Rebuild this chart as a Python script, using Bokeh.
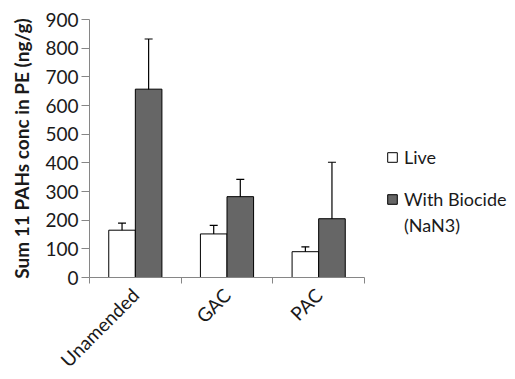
from bokeh.plotting import figure
from bokeh.models import (ColumnDataSource, Whisker, TeeHead, Legend, LegendItem,
                          FixedTicker, Range1d)
from bokeh.embed import file_html
from bokeh.resources import INLINE
import math

categories = ["Unamended", "GAC", "PAC"]
live = [165, 152, 90]
live_err = [25, 30, 17]
biocide = [657, 282, 205]
biocide_err = [175, 60, 197]
y_ticks = [0, 100, 200, 300, 400, 500, 600, 700, 800, 900]
series_names = ["Live", "With Biocide", "(NaN3)"]

FONT = "Lato"
AXIS_GRAY = "#868686"
TXT = "#1a1a1a"

n = len(categories)
xc = [i + 0.5 for i in range(n)]
off = 0.145
w = 0.29
src_live = ColumnDataSource(dict(
    x=[c - off for c in xc], top=live,
    lo=[v - e for v, e in zip(live, live_err)],
    hi=[v + e for v, e in zip(live, live_err)]))
src_bio = ColumnDataSource(dict(
    x=[c + off for c in xc], top=biocide,
    lo=[v - e for v, e in zip(biocide, biocide_err)],
    hi=[v + e for v, e in zip(biocide, biocide_err)]))

p = figure(output_backend="svg", toolbar_location=None,
           x_range=Range1d(0, n), y_range=Range1d(0, 900),
           frame_width=275, frame_height=258,
           min_border_left=89, min_border_top=19, min_border_right=145, min_border_bottom=92)
p.outline_line_color = None
p.xgrid.visible = False
p.ygrid.visible = False

r_live = p.vbar(x="x", top="top", width=w, source=src_live,
                fill_color="white", line_color="black", line_width=1)
r_bio = p.vbar(x="x", top="top", width=w, source=src_bio,
               fill_color="#666666", line_color="black", line_width=1)
# invisible renderer used for text-only legend rows
r_blank = p.vbar(x=[], top=[], width=w, fill_color=None, line_color=None)

for s in (src_live, src_bio):
    wk = Whisker(source=s, base="x", lower="lo", upper="hi",
                 line_color="black", line_width=1.2,
                 upper_head=TeeHead(size=8, line_color="black", line_width=1.2),
                 lower_head=TeeHead(size=8, line_color="black", line_width=1.2))
    p.add_layout(wk)

# y axis
ya = p.yaxis[0]
ya.ticker = FixedTicker(ticks=y_ticks)
ya.axis_line_color = AXIS_GRAY
ya.major_tick_line_color = AXIS_GRAY
ya.major_tick_out = 8
ya.major_tick_in = 0
ya.minor_tick_line_color = None
ya.major_label_text_font = FONT
ya.major_label_text_font_size = "19px"
ya.major_label_text_color = TXT
ya.major_label_standoff = 3
ya.axis_label = "Sum 11 PAHs conc in PE (ng/g)"
ya.axis_label_text_font = FONT
ya.axis_label_text_font_style = "bold"
ya.axis_label_text_font_size = "19px"
ya.axis_label_text_color = TXT
ya.axis_label_standoff = 9

# x axis: labels at category centres, tick marks at category boundaries
xa = p.xaxis[0]
xa.ticker = FixedTicker(ticks=xc, minor_ticks=list(range(n + 1)))
xa.major_label_overrides = {c: name for c, name in zip(xc, categories)}
xa.axis_line_color = AXIS_GRAY
xa.major_tick_line_color = None
xa.minor_tick_line_color = AXIS_GRAY
xa.minor_tick_out = 6
xa.minor_tick_in = 0
xa.major_label_orientation = math.pi / 4
xa.major_label_text_font = FONT
xa.major_label_text_font_size = "19px"
xa.major_label_text_color = TXT
xa.major_label_standoff = 8

legend = Legend(items=[LegendItem(label=series_names[0], renderers=[r_live]),
                       LegendItem(label=" ", renderers=[r_blank]),
                       LegendItem(label=series_names[1], renderers=[r_bio]),
                       LegendItem(label=series_names[2], renderers=[r_blank])],
                location=(22, 41), border_line_color=None, background_fill_alpha=0,
                label_text_font=FONT, label_text_font_size="18px",
                label_text_color=TXT,
                glyph_width=12, glyph_height=12, spacing=4, label_standoff=6,
                padding=0, margin=0)
p.add_layout(legend, "right")

open("out.html", "w").write(file_html(p, INLINE))
